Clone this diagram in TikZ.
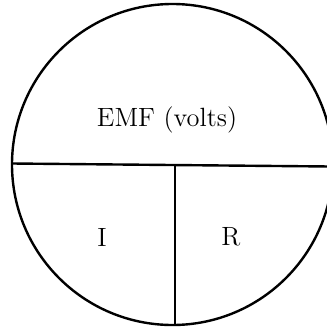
\documentclass[tikz,border=0pt]{standalone}
\begin{document}
\begin{tikzpicture}[x=0.5pt,y=-0.5pt,line width=1.2pt,
  lbl/.style={inner sep=0pt,font=\fontsize{13.2}{15}\selectfont}]
\useasboundingbox (0,0) rectangle (327,327);
\clip (0,0) rectangle (327,327);
\coordinate (c) at (172.5,164.5);
\draw (c) circle[radius=160.5*0.5pt];
\coordinate (hl) at (12,163.5);
\coordinate (hr) at (330,166.5);
\coordinate (vt) at (175,165);
\coordinate (vb) at (175,325);
\draw (hl) -- (hr);
\draw (vt) -- (vb);
\node[lbl] (emf) at (167,120) {EMF (volts)};
\node[lbl] (i) at (102,237) {I};
\node[lbl] (r) at (231,237) {R};
\end{tikzpicture}
\end{document}
